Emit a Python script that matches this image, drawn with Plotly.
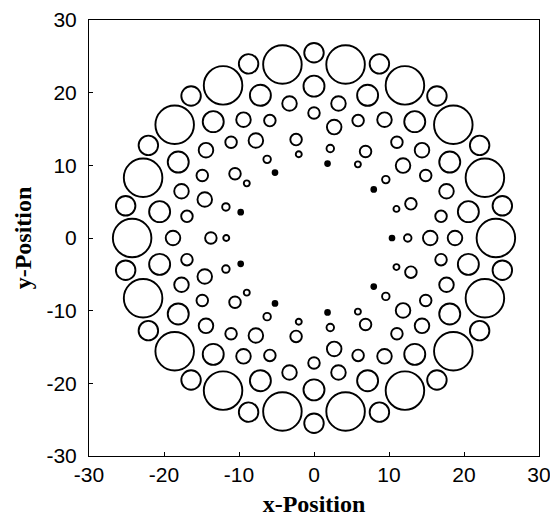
import math
import plotly.graph_objects as go

# ---- data (polar layout, 9-fold pattern) ----
# angles (degrees) of each family of positions
ANGLES_EVEN20 = [0, 20, 40, 60, 80, 100, 120, 140, 160, 180, 200, 220, 240, 260, 280, 300, 320, 340]
ANGLES_ODD20 = [10, 30, 50, 70, 90, 110, 130, 150, 170, 190, 210, 230, 250, 270, 290, 310, 330, 350]
ANGLES_A = [0, 40, 80, 120, 160, 200, 240, 280, 320]
ANGLES_B = [20, 60, 100, 140, 180, 220, 260, 300, 340]

# each ring: angle set, distance from centre, circle radius, filled
ring_names = ["big", "outer", "c1", "mid", "c2", "a2", "b2", "a3", "b3", "dot"]
ring_angles = [ANGLES_EVEN20, ANGLES_ODD20, ANGLES_ODD20, ANGLES_EVEN20, ANGLES_ODD20,
               ANGLES_A, ANGLES_B, ANGLES_A, ANGLES_B, ANGLES_A]
ring_distance = [24.25, 25.5, 20.9, 18.8, 17.2, 15.5, 13.75, 12.5, 11.7, 10.4]
circle_radius = [2.57, 1.30, 1.40, 0.97, 0.77, 0.97, 0.77, 0.50, 0.40, 0.32]
ring_filled = [False, False, False, False, False, False, False, False, False, True]

x_ticks = [-30, -20, -10, 0, 10, 20, 30]
y_ticks = [-30, -20, -10, 0, 10, 20, 30]
tick_text = ["-30", "-20", "-10", "0", "10", "20", "30"]

# ---- layout geometry (page has an 8px body margin) ----
W, H = 558, 521
ML, MR, MT, MB = 81, 27, 12, 73
plot_w = W - ML - MR
px_per_unit = plot_w / (x_ticks[-1] - x_ticks[0])

fig = go.Figure()
for name, angs, dist, rad, filled in zip(ring_names, ring_angles, ring_distance,
                                          circle_radius, ring_filled):
    xs = [dist * math.cos(math.radians(a)) for a in angs]
    ys = [dist * math.sin(math.radians(a)) for a in angs]
    size = 2 * rad * px_per_unit
    fig.add_trace(go.Scatter(
        x=xs, y=ys, mode="markers", name=name, showlegend=False,
        marker=dict(symbol="circle" if filled else "circle-open",
                    size=size, color="black",
                    line=dict(color="black", width=1.9)),
        hoverinfo="x+y",
    ))

axis_common = dict(
    range=[-30, 30], showgrid=False, zeroline=False, automargin=False,
    showline=True, linecolor="black", linewidth=1, mirror=True,
    ticks="inside", ticklen=4, tickcolor="black",
    tickfont=dict(family="Liberation Sans, Arial", size=21, color="black"),
)

fig.update_layout(
    template="simple_white",
    width=W, height=H,
    margin=dict(l=ML, r=MR, t=MT, b=MB),
    paper_bgcolor="white", plot_bgcolor="white",
    xaxis=dict(**axis_common, tickvals=x_ticks, ticktext=tick_text,
               title=dict(text="<b>x-Position</b>", standoff=9,
                          font=dict(family="Liberation Serif, Times New Roman", size=24, color="black"))),
    yaxis=dict(**axis_common, tickvals=y_ticks, ticktext=tick_text, ticklabelstandoff=7,
               title=dict(text="<b>y-Position</b>", standoff=8,
                          font=dict(family="Liberation Serif, Times New Roman", size=24, color="black"))),
)

fig.write_html("out.html")
